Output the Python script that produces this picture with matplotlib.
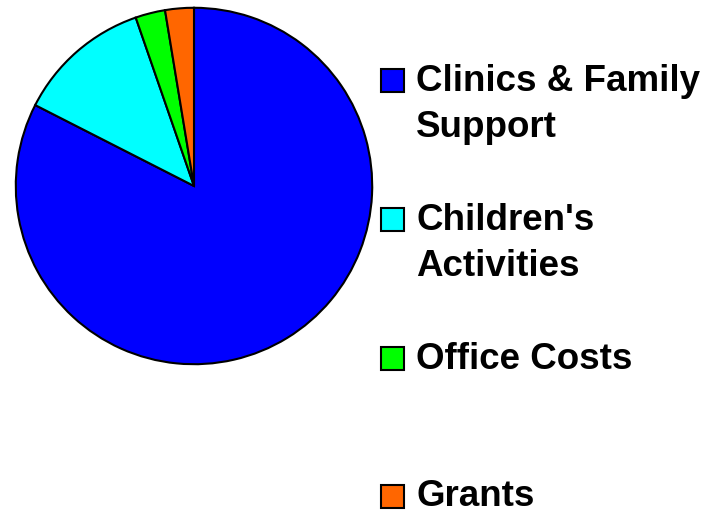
import matplotlib
matplotlib.use("Agg")
import matplotlib.pyplot as plt
from matplotlib.patches import Rectangle

categories = ["Clinics & Family\nSupport", "Children's\nActivities", "Office Costs", "Grants"]
values = [82.5, 12.2, 2.7, 2.6]
colors = ["#0000FF", "#00FFFF", "#00FF00", "#FF6600"]

W, H = 710, 513
fig = plt.figure(figsize=(W / 100, H / 100), dpi=100)
fig.patch.set_facecolor("white")

ax = fig.add_axes([14 / W, (H - 186 - 180) / H, 360 / W, 360 / H])
ax.pie(values, colors=colors, startangle=90, counterclock=False,
       wedgeprops=dict(edgecolor="black", linewidth=1.5), radius=1.0)
ax.set_xlim(-1.01, 1.01)
ax.set_ylim(-1.01, 1.01)
ax.set_aspect("equal")
ax.axis("off")

square_top = [69, 208, 347, 485]
last_baseline = [137, 276, 369, 506]
for lab, col, top, base in zip(categories, colors, square_top, last_baseline):
    fig.patches.append(Rectangle((381 / W, (H - top - 23) / H), 23 / W, 23 / H,
                                 transform=fig.transFigure, facecolor=col,
                                 edgecolor="black", linewidth=1.5))
    fig.text(416 / W, (H - base) / H, lab, fontsize=26.5, fontweight="bold",
             family="Liberation Sans", va="baseline", ha="left", linespacing=1.39)

fig.savefig("out.png", dpi=100)
